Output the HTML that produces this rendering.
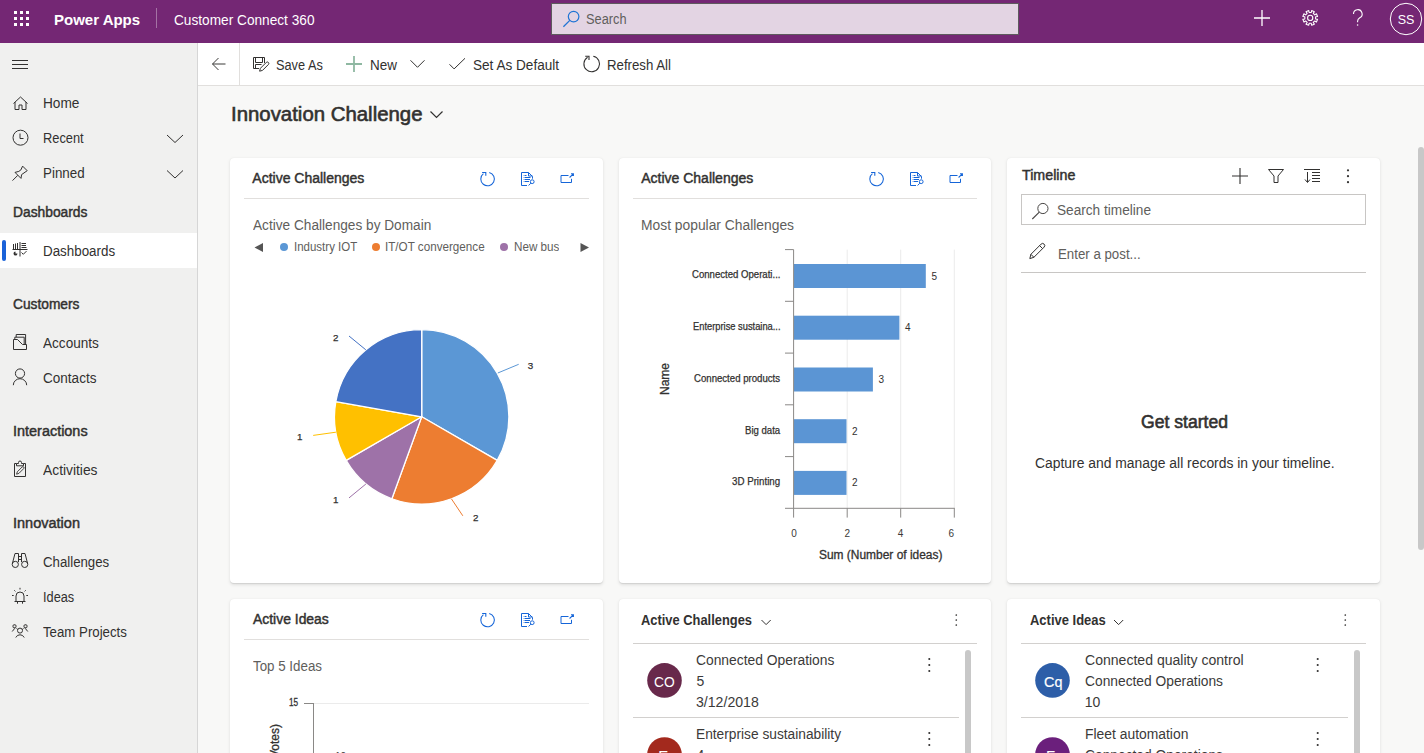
<!DOCTYPE html>
<html lang="en"><head><meta charset="utf-8"><title>Innovation Challenge - Power Apps</title>
<style>
*{box-sizing:border-box;margin:0;padding:0}
html,body{width:1424px;height:753px;overflow:hidden;background:#f8f8f7;font-family:"Liberation Sans",sans-serif;}
.t{position:absolute;white-space:nowrap;transform-origin:0 0;}
.clip{position:absolute;overflow:hidden;}
#hdr{position:absolute;left:0;top:0;width:1424px;height:43px;background:#742774;}
#srch{position:absolute;left:551px;top:3px;width:468px;height:32px;background:#e3d4e3;border:1px solid #5e5a5e;}
#nav{position:absolute;left:0;top:43px;width:198px;height:710px;background:#f0f0ef;border-right:1px solid #d6d6d6;}
#sel{position:absolute;left:0;top:233px;width:197px;height:35px;background:#fff;}
#selbar{position:absolute;left:2px;top:240px;width:4px;height:21px;background:#1a62d8;border-radius:2px;}
#cmd{position:absolute;left:198px;top:43px;width:1226px;height:43px;background:#fff;border-bottom:1px solid #e1dfdd;}
#cmdsep{position:absolute;left:239px;top:43px;width:1px;height:42px;background:#e1dfdd;}
.card{position:absolute;background:#fff;border-radius:4px;box-shadow:0 1.6px 3.6px rgba(0,0,0,.10),0 0.3px 0.9px rgba(0,0,0,.08);}
svg{position:absolute;left:0;top:0;}
.rot{position:absolute;font-size:12px;line-height:12px;color:#323130;-webkit-text-stroke:.3px #323130;transform:rotate(-90deg);transform-origin:0 0;white-space:nowrap;}
.rot2{position:absolute;font-size:12px;line-height:12px;color:#323130;transform:rotate(-90deg);transform-origin:0 0;white-space:nowrap;}
</style></head>
<body>
<div id="hdr"></div>
<div id="srch"></div>
<div id="nav"></div>
<div id="sel"></div>
<div id="selbar"></div>
<div id="cmd"></div>
<div id="cmdsep"></div>
<div class="card" style="left:230px;top:158px;width:373px;height:425px"></div><div class="card" style="left:619px;top:158px;width:372px;height:425px"></div><div class="card" style="left:1007px;top:158px;width:373px;height:425px"></div><div class="card" style="left:230px;top:599px;width:373px;height:181px"></div><div class="card" style="left:619px;top:599px;width:372px;height:181px"></div><div class="card" style="left:1007px;top:599px;width:373px;height:181px"></div>
<svg width="1424" height="753" viewBox="0 0 1424 753">
<rect x="14" y="11" width="3" height="3" fill="#fff"/>
<rect x="14" y="17" width="3" height="3" fill="#fff"/>
<rect x="14" y="23" width="3" height="3" fill="#fff"/>
<rect x="20" y="11" width="3" height="3" fill="#fff"/>
<rect x="20" y="17" width="3" height="3" fill="#fff"/>
<rect x="20" y="23" width="3" height="3" fill="#fff"/>
<rect x="26" y="11" width="3" height="3" fill="#fff"/>
<rect x="26" y="17" width="3" height="3" fill="#fff"/>
<rect x="26" y="23" width="3" height="3" fill="#fff"/>
<rect x="156" y="8" width="1" height="20" fill="rgba(255,255,255,.35)"/>
<path d="M1262 10v16M1254 18h16" stroke="#fff" stroke-width="1.3" fill="none"/>
<path d="M1317.56 19.36 L1316.44 22.07 L1314.77 20.96 L1313.26 22.47 L1314.37 24.14 L1311.66 25.26 L1311.27 23.29 L1309.13 23.29 L1308.74 25.26 L1306.03 24.14 L1307.14 22.47 L1305.63 20.96 L1303.96 22.07 L1302.84 19.36 L1304.81 18.97 L1304.81 16.83 L1302.84 16.44 L1303.96 13.73 L1305.63 14.84 L1307.14 13.33 L1306.03 11.66 L1308.74 10.54 L1309.13 12.51 L1311.27 12.51 L1311.66 10.54 L1314.37 11.66 L1313.26 13.33 L1314.77 14.84 L1316.44 13.73 L1317.56 16.44 L1315.59 16.83 L1315.59 18.97Z" stroke="#fff" stroke-width="1.1" fill="none" stroke-linejoin="round"/>
<circle cx="1310.2" cy="17.9" r="2.6" stroke="#fff" stroke-width="1.1" fill="none"/>
<path d="M1353.5 14a4.3 4.3 0 1 1 6.3 3.8c-1.4.8-2.2 1.6-2.2 3.4v1" stroke="#fff" stroke-width="1.1" fill="none"/>
<circle cx="1357.6" cy="25" r=".8" fill="#fff"/>
<circle cx="1406" cy="19" r="15.7" stroke="#fff" stroke-width="1" fill="none"/>
<circle cx="573.6" cy="16.6" r="5.3" stroke="#1f74d4" stroke-width="1.2" fill="none"/>
<path d="M569.8 20.4L563.4 26.8" stroke="#1f74d4" stroke-width="1.3" fill="none"/>
<path d="M225.5 64H212.5M218.5 58L212.5 64L218.5 70" stroke="#3b3a39" stroke-width="1" fill="none"/>
<path d="M253.5 57.5h11v5.5M253.5 57.5v11h5.5M255.5 57.5v5h7v-5M255.5 68.5v-4h6" stroke="#323130" fill="none"/><path d="M259.6 71.2l.8-2.9 6-6a1.5 1.5 0 0 1 2.1 2.1l-6 6z" stroke="#323130" fill="none" stroke-linejoin="round"/>
<path d="M354 56v16M346 64h16" stroke="#8fb8a2" stroke-width="1.8" fill="none"/>
<path d="M410.5 60.3l7 7 7-7" stroke="#323130" stroke-width="1" fill="none"/>
<path d="M449.5 64.3l4.6 4.6 10.9-10.6" stroke="#323130" stroke-width="1" fill="none"/>
<path d="M593.3 56.3A7.8 7.8 0 1 1 587.6 57.3" stroke="#323130" stroke-width="1.05" fill="none"/><path d="M585.2 56.3H589V60" stroke="#323130" stroke-width="1.1" fill="none"/>
<path d="M12 60.5h16M12 64.5h16M12 68.5h16" stroke="#323130" stroke-width="1" fill="none"/>
<path d="M13.5 103.5L20.5 97l7 6.5M15 102v7.5h4v-4.5h3v4.5h4V102" stroke="#323130" fill="none" stroke-linejoin="round"/>
<circle cx="20.5" cy="137.7" r="7.5" stroke="#323130" fill="none"/><path d="M20 133.5v5h3.5" stroke="#323130" fill="none"/>
<path d="M15 172.4L21 178.4L21.6 174.6L27.2 170.7L22.6 166.1L20.9 169.9L18.8 171.4ZM12.5 180.6L17.8 175.3" stroke="#323130" fill="none" stroke-linejoin="round"/>
<path d="M167 135l8 7.5 8-7.5M167 170.5l8 7.5 8-7.5" stroke="#323130" stroke-width="1" fill="none"/>
<path d="M13.5 244v5M15.5 243.5v5.5M17.5 243v6M20 242v14.5M12.5 249.5h15M21.5 243.5h4.5M21.5 245.5h4.5M21.5 247.5h5M21.5 252.5l1.8 1.8 3.2-3.2" stroke="#323130" fill="none"/><path d="M15.5 251.5a2 2 0 1 0 2 2h-2z" fill="#323130"/>
<path d="M13.5 349.5V339.5h4l5 5h4v5zM14.8 339.5v-2.3h9.4v7.3M16.2 337.2v-2.7h9.4v10" stroke="#323130" fill="none" stroke-linejoin="round"/>
<circle cx="20" cy="373.5" r="4.6" stroke="#323130" fill="none"/><path d="M13.3 385.2a6.7 6.5 0 0 1 13.4 0" stroke="#323130" fill="none"/>
<path d="M16.5 463.5h-2v13h11v-13h-2" stroke="#323130" fill="none"/><path d="M16.5 463.5h2v-1a1.5 1.5 0 0 1 3 0v1h2v2.3h-7z" stroke="#323130" fill="none" stroke-linejoin="round"/><path d="M16.6 474.2l.7-2.4 4.8-4.8a1.1 1.1 0 0 1 1.6 1.6l-4.8 4.8z" stroke="#323130" stroke-width=".9" fill="none" stroke-linejoin="round"/>
<circle cx="15.3" cy="564.4" r="3.1" stroke="#323130" fill="none"/><circle cx="24.7" cy="564.4" r="3.1" stroke="#323130" fill="none"/><path d="M12.3 563.8l2.7-10.3h3.5v8.5M27.7 563.8l-2.7-10.3h-3.5v8.5M18.5 556.5h3M18.5 559.5h3" stroke="#323130" fill="none" stroke-linejoin="round"/>
<path d="M16 601.5v-5.5a4 4 0 0 1 8 0v5.5M14.5 601.5h11M17.5 601.5v2.2M22.5 601.5v2.2M20 587.8v1.7M14.3 590.3l1.1 1.1M25.7 590.3l-1.1 1.1M12 595.5h1.7M26.3 595.5h1.7" stroke="#323130" fill="none"/>
<rect x="13" y="624.8" width="3" height="3" rx="1" stroke="#323130" fill="none"/><rect x="24" y="624.8" width="3" height="3" rx="1" stroke="#323130" fill="none"/><circle cx="20" cy="630.6" r="2.5" stroke="#323130" fill="none"/><path d="M12.2 631.5l2.6-3.2M27.8 631.5l-2.6-3.2M16.5 628.5l1.3 1M23.5 628.5l-1.3 1M15.8 637.5a4.6 4.6 0 0 1 8.4 0" stroke="#323130" fill="none"/>
<path d="M430.5 111.5l6 6 6-6" stroke="#323130" stroke-width="1.2" fill="none"/>
<path d="M489.25 172.40A6.8 6.8 0 1 1 483.41 173.64" stroke="#1565d8" stroke-width="1.05" fill="none"/><path d="M482.1 172.5H485.8V175.7" stroke="#1565d8" stroke-width="1.1" fill="none"/><path d="M521.5 172.5h7l4 4v2.2M521.5 172.5v13h5.5M528.5 172.5v3.5h4M524.5 175.5h2M524.5 177.5h6M524.5 179.5h5.5M524.5 181.5h4.5" stroke="#1565d8" fill="none"/><path d="M523.0 175.5h.6M523.0 177.5h.6M523.0 179.5h.6M523.0 181.5h.6" stroke="#1565d8" stroke-opacity=".5" fill="none"/><circle cx="532.2" cy="181.7" r="1.9" stroke="#1565d8" fill="none"/><path d="M530.8 183.2l-2.2 2.3" stroke="#1565d8" fill="none"/><path d="M568.5 175.5H561V182.5H571.5V178.8" stroke="#1565d8" stroke-width="1" fill="none"/><path d="M569.6 177.5L573 174.1M571 173.7H573.4V176.1" stroke="#1565d8" stroke-width="1.1" fill="none"/>
<rect x="244" y="198" width="345" height="1" fill="#e1dfdd"/>
<path d="M254.5 247.5l8.5-4.5v9z" fill="#555"/>
<path d="M589 247.5l-8.5-4.5v9z" fill="#555"/>
<circle cx="284" cy="247" r="4" fill="#5b97d5"/><circle cx="376" cy="247" r="4" fill="#ed7d31"/><circle cx="504" cy="247" r="4" fill="#9e72a8"/>
<path d="M421.7 416.8L421.70 329.60A87.2 87.2 0 0 1 497.22 460.40Z" fill="#5b97d5" stroke="#fff" stroke-width="1.3" stroke-linejoin="round"/>
<path d="M421.7 416.8L497.22 460.40A87.2 87.2 0 0 1 391.88 498.74Z" fill="#ed7d31" stroke="#fff" stroke-width="1.3" stroke-linejoin="round"/>
<path d="M421.7 416.8L391.88 498.74A87.2 87.2 0 0 1 346.18 460.40Z" fill="#9e72a8" stroke="#fff" stroke-width="1.3" stroke-linejoin="round"/>
<path d="M421.7 416.8L346.18 460.40A87.2 87.2 0 0 1 335.82 401.66Z" fill="#ffc000" stroke="#fff" stroke-width="1.3" stroke-linejoin="round"/>
<path d="M421.7 416.8L335.82 401.66A87.2 87.2 0 0 1 421.70 329.60Z" fill="#4472c4" stroke="#fff" stroke-width="1.3" stroke-linejoin="round"/>
<path d="M497.8 373L518.7 364.3" stroke="#5b97d5" stroke-width="1" fill="none"/>
<path d="M451.4 498.8L462.8 515.8" stroke="#ed7d31" stroke-width="1" fill="none"/>
<path d="M365.9 484L349 497.9" stroke="#9e72a8" stroke-width="1" fill="none"/>
<path d="M335.9 432.2L313.2 435.4" stroke="#ffc000" stroke-width="1" fill="none"/>
<path d="M365.8 349.8L349 336" stroke="#4472c4" stroke-width="1" fill="none"/>
<path d="M878.25 172.40A6.8 6.8 0 1 1 872.41 173.64" stroke="#1565d8" stroke-width="1.05" fill="none"/><path d="M871.1 172.5H874.8V175.7" stroke="#1565d8" stroke-width="1.1" fill="none"/><path d="M910.5 172.5h7l4 4v2.2M910.5 172.5v13h5.5M917.5 172.5v3.5h4M913.5 175.5h2M913.5 177.5h6M913.5 179.5h5.5M913.5 181.5h4.5" stroke="#1565d8" fill="none"/><path d="M912.0 175.5h.6M912.0 177.5h.6M912.0 179.5h.6M912.0 181.5h.6" stroke="#1565d8" stroke-opacity=".5" fill="none"/><circle cx="921.2" cy="181.7" r="1.9" stroke="#1565d8" fill="none"/><path d="M919.8 183.2l-2.2 2.3" stroke="#1565d8" fill="none"/><path d="M957.5 175.5H950V182.5H960.5V178.8" stroke="#1565d8" stroke-width="1" fill="none"/><path d="M958.6 177.5L962 174.1M960 173.7H962.4V176.1" stroke="#1565d8" stroke-width="1.1" fill="none"/>
<rect x="633" y="198" width="344" height="1" fill="#e1dfdd"/>
<path d="M847.2 249.6V508.3" stroke="#ebebeb" stroke-width="1" fill="none"/>
<path d="M900.7 249.6V508.3" stroke="#ebebeb" stroke-width="1" fill="none"/>
<path d="M954.3 249.6V508.3" stroke="#ebebeb" stroke-width="1" fill="none"/>
<rect x="794.0" y="264.0" width="131.8" height="24" fill="#5b95d4"/>
<rect x="794.0" y="315.7" width="105.4" height="24" fill="#5b95d4"/>
<rect x="794.0" y="367.5" width="78.9" height="24" fill="#5b95d4"/>
<rect x="794.0" y="419.2" width="52.5" height="24" fill="#5b95d4"/>
<rect x="794.0" y="470.9" width="52.5" height="24" fill="#5b95d4"/>
<path d="M793.6 249.6V508.3M785 249.6H793.6" stroke="#8a8886" stroke-width="1" fill="none"/>
<path d="M785 301.3H793.6" stroke="#8a8886" stroke-width="1" fill="none"/>
<path d="M785 353.1H793.6" stroke="#8a8886" stroke-width="1" fill="none"/>
<path d="M785 404.8H793.6" stroke="#8a8886" stroke-width="1" fill="none"/>
<path d="M785 456.6H793.6" stroke="#8a8886" stroke-width="1" fill="none"/>
<path d="M785 508.3H954.8" stroke="#8a8886" stroke-width="1" fill="none"/>
<path d="M793.6 508.3V517.6" stroke="#8a8886" stroke-width="1" fill="none"/>
<path d="M847.2 508.3V517.6" stroke="#8a8886" stroke-width="1" fill="none"/>
<path d="M900.7 508.3V517.6" stroke="#8a8886" stroke-width="1" fill="none"/>
<path d="M954.3 508.3V517.6" stroke="#8a8886" stroke-width="1" fill="none"/>
<path d="M1240 168v16M1232 176h16" stroke="#323130" stroke-width="1.1" fill="none"/>
<path d="M1268.5 169.5h15l-5.5 6.5v6.5h-4v-6.5z" stroke="#323130" stroke-width="1" fill="none" stroke-linejoin="round"/>
<path d="M1304 169.5h16M1307.5 172v10M1305 179.5l2.5 3 2.5-3M1312 172.5h8M1312 175.5h8M1312 178.5h8M1312 181.5h8" stroke="#323130" stroke-width="1" fill="none"/>
<circle cx="1348" cy="170.3" r="1.1" fill="#323130"/>
<circle cx="1348" cy="176.2" r="1.1" fill="#323130"/>
<circle cx="1348" cy="182.2" r="1.1" fill="#323130"/>
<rect x="1021.5" y="194.5" width="344" height="30" stroke="#c8c6c4" fill="#fff"/>
<circle cx="1042.9" cy="208.5" r="5.1" stroke="#484644" stroke-width="1" fill="none"/><path d="M1039.3 212.2l-7 6.8" stroke="#484644" stroke-width="1.1" fill="none"/>
<path d="M1029.8 258.6l1.1-4.3 10.2-10.2a2.1 2.1 0 0 1 3 3l-10.2 10.2zM1039.6 245.6l3 3M1030.9 254.3l3 3" stroke="#323130" stroke-width="1" fill="none" stroke-linejoin="round"/>
<rect x="1021" y="272" width="345" height="1" fill="#c8c6c4"/>
<path d="M489.25 613.40A6.8 6.8 0 1 1 483.41 614.64" stroke="#1565d8" stroke-width="1.05" fill="none"/><path d="M482.1 613.5H485.8V616.7" stroke="#1565d8" stroke-width="1.1" fill="none"/><path d="M521.5 613.5h7l4 4v2.2M521.5 613.5v13h5.5M528.5 613.5v3.5h4M524.5 616.5h2M524.5 618.5h6M524.5 620.5h5.5M524.5 622.5h4.5" stroke="#1565d8" fill="none"/><path d="M523.0 616.5h.6M523.0 618.5h.6M523.0 620.5h.6M523.0 622.5h.6" stroke="#1565d8" stroke-opacity=".5" fill="none"/><circle cx="532.2" cy="622.7" r="1.9" stroke="#1565d8" fill="none"/><path d="M530.8 624.2l-2.2 2.3" stroke="#1565d8" fill="none"/><path d="M568.5 616.5H561V623.5H571.5V619.8" stroke="#1565d8" stroke-width="1" fill="none"/><path d="M569.6 618.5L573 615.1M571 614.7H573.4V617.1" stroke="#1565d8" stroke-width="1.1" fill="none"/>
<rect x="244" y="639" width="345" height="1" fill="#e1dfdd"/>
<path d="M313.5 703.5H589" stroke="#ebebeb" stroke-width="1" fill="none"/>
<path d="M313.5 703V760M304 703.5H313.5" stroke="#8a8886" stroke-width="1" fill="none"/>
<path d="M761.5 620l4.6 4.6 4.6-4.6" stroke="#323130" stroke-width="1" fill="none"/>
<circle cx="956.3" cy="615" r="0.85" fill="#323130"/><circle cx="956.3" cy="620" r="0.85" fill="#323130"/><circle cx="956.3" cy="625" r="0.85" fill="#323130"/>
<rect x="633" y="643" width="344" height="1" fill="#d2d0ce"/>
<circle cx="664.5" cy="680.4" r="17.3" fill="#68294b"/>
<circle cx="929.3" cy="659" r="1.05" fill="#323130"/><circle cx="929.3" cy="665" r="1.05" fill="#323130"/><circle cx="929.3" cy="671" r="1.05" fill="#323130"/>
<rect x="633" y="717" width="326" height="1" fill="#d2d0ce"/>
<circle cx="664.5" cy="754.5" r="17.3" fill="#a3291d"/>
<circle cx="929.3" cy="733" r="1.05" fill="#323130"/><circle cx="929.3" cy="739" r="1.05" fill="#323130"/><circle cx="929.3" cy="745" r="1.05" fill="#323130"/>
<rect x="965" y="650" width="6" height="120" rx="3" fill="#c8c8c8"/>
<path d="M1114 620l4.6 4.6 4.6-4.6" stroke="#323130" stroke-width="1" fill="none"/>
<circle cx="1345.3" cy="615" r="0.85" fill="#323130"/><circle cx="1345.3" cy="620" r="0.85" fill="#323130"/><circle cx="1345.3" cy="625" r="0.85" fill="#323130"/>
<rect x="1021" y="643" width="345" height="1" fill="#d2d0ce"/>
<circle cx="1052.5" cy="680.4" r="17.3" fill="#2d5ea8"/>
<circle cx="1317.7" cy="659" r="1.05" fill="#323130"/><circle cx="1317.7" cy="665" r="1.05" fill="#323130"/><circle cx="1317.7" cy="671" r="1.05" fill="#323130"/>
<rect x="1021" y="717" width="327" height="1" fill="#d2d0ce"/>
<circle cx="1052.5" cy="754.5" r="17.3" fill="#6b1f7c"/>
<circle cx="1317.7" cy="733" r="1.05" fill="#323130"/><circle cx="1317.7" cy="739" r="1.05" fill="#323130"/><circle cx="1317.7" cy="745" r="1.05" fill="#323130"/>
<rect x="1354" y="650" width="6" height="120" rx="3" fill="#c8c8c8"/>
<rect x="1418" y="147" width="6" height="403" rx="3" fill="#c8c8c8"/>
</svg>
<span class="t" style="left:54.00px;top:12.30px;font-size:15px;line-height:15px;color:#fff;font-weight:700;">Power Apps</span>
<span class="t" style="left:173.50px;top:13.15px;font-size:14px;line-height:14px;color:#fff;transform:scaleX(0.976);">Customer Connect 360</span>
<span class="t" style="left:1397.66px;top:14.42px;font-size:12.5px;line-height:12.5px;color:#fff;">SS</span>
<span class="t" style="left:586.00px;top:12.15px;font-size:14px;line-height:14px;color:#605e5c;transform:scaleX(0.913);">Search</span>
<span class="t" style="left:275.50px;top:58.15px;font-size:14px;line-height:14px;color:#323130;transform:scaleX(0.911);">Save As</span>
<span class="t" style="left:370.00px;top:58.15px;font-size:14px;line-height:14px;color:#323130;transform:scaleX(0.962);">New</span>
<span class="t" style="left:473.00px;top:58.15px;font-size:14px;line-height:14px;color:#323130;transform:scaleX(0.970);">Set As Default</span>
<span class="t" style="left:607.00px;top:58.15px;font-size:14px;line-height:14px;color:#323130;transform:scaleX(0.945);">Refresh All</span>
<span class="t" style="left:43.10px;top:96.15px;font-size:14px;line-height:14px;color:#323130;transform:scaleX(0.976);">Home</span>
<span class="t" style="left:43.10px;top:131.15px;font-size:14px;line-height:14px;color:#323130;transform:scaleX(0.917);">Recent</span>
<span class="t" style="left:43.10px;top:166.15px;font-size:14px;line-height:14px;color:#323130;transform:scaleX(0.956);">Pinned</span>
<span class="t" style="left:43.10px;top:244.15px;font-size:14px;line-height:14px;color:#323130;transform:scaleX(0.955);">Dashboards</span>
<span class="t" style="left:43.10px;top:336.15px;font-size:14px;line-height:14px;color:#323130;transform:scaleX(0.970);">Accounts</span>
<span class="t" style="left:43.10px;top:371.15px;font-size:14px;line-height:14px;color:#323130;transform:scaleX(0.967);">Contacts</span>
<span class="t" style="left:43.10px;top:463.15px;font-size:14px;line-height:14px;color:#323130;transform:scaleX(0.987);">Activities</span>
<span class="t" style="left:43.10px;top:555.15px;font-size:14px;line-height:14px;color:#323130;transform:scaleX(0.945);">Challenges</span>
<span class="t" style="left:43.10px;top:590.15px;font-size:14px;line-height:14px;color:#323130;transform:scaleX(0.911);">Ideas</span>
<span class="t" style="left:43.10px;top:625.15px;font-size:14px;line-height:14px;color:#323130;transform:scaleX(0.946);">Team Projects</span>
<span class="t" style="left:12.60px;top:205.15px;font-size:14px;line-height:14px;color:#323130;transform:scaleX(0.986);-webkit-text-stroke:0.45px #323130;">Dashboards</span>
<span class="t" style="left:12.60px;top:297.15px;font-size:14px;line-height:14px;color:#323130;transform:scaleX(0.981);-webkit-text-stroke:0.45px #323130;">Customers</span>
<span class="t" style="left:12.60px;top:424.15px;font-size:14px;line-height:14px;color:#323130;transform:scaleX(1.031);-webkit-text-stroke:0.45px #323130;">Interactions</span>
<span class="t" style="left:12.60px;top:516.15px;font-size:14px;line-height:14px;color:#323130;transform:scaleX(1.037);-webkit-text-stroke:0.45px #323130;">Innovation</span>
<span class="t" style="left:230.60px;top:104.07px;font-size:20px;line-height:20px;color:#323130;transform:scaleX(1.019);-webkit-text-stroke:0.60px #323130;">Innovation Challenge</span>
<span class="t" style="left:252.30px;top:171.15px;font-size:14px;line-height:14px;color:#323130;-webkit-text-stroke:0.45px #323130;">Active Challenges</span>
<span class="t" style="left:252.70px;top:217.85px;font-size:14px;line-height:14px;color:#605e5c;transform:scaleX(0.975);">Active Challenges by Domain</span>
<span class="t" style="left:293.50px;top:240.84px;font-size:12px;line-height:12px;color:#605e5c;transform:scaleX(0.958);">Industry IOT</span>
<span class="t" style="left:385.40px;top:240.84px;font-size:12px;line-height:12px;color:#605e5c;transform:scaleX(0.972);">IT/OT convergence</span>
<div class="clip" style="left:513px;top:238px;width:46px;height:18px">
<span class="t" style="left:0.60px;top:2.84px;font-size:12px;line-height:12px;color:#605e5c;transform:scaleX(0.972);">New business</span>
</div>
<span class="t" style="left:527.78px;top:360.70px;font-size:9.8px;line-height:9.8px;color:#323130;-webkit-text-stroke:0.25px #323130;">3</span>
<span class="t" style="left:472.88px;top:512.70px;font-size:9.8px;line-height:9.8px;color:#323130;-webkit-text-stroke:0.25px #323130;">2</span>
<span class="t" style="left:332.88px;top:494.70px;font-size:9.8px;line-height:9.8px;color:#323130;-webkit-text-stroke:0.25px #323130;">1</span>
<span class="t" style="left:296.98px;top:431.70px;font-size:9.8px;line-height:9.8px;color:#323130;-webkit-text-stroke:0.25px #323130;">1</span>
<span class="t" style="left:332.88px;top:332.90px;font-size:9.8px;line-height:9.8px;color:#323130;-webkit-text-stroke:0.25px #323130;">2</span>
<span class="t" style="left:641.20px;top:171.15px;font-size:14px;line-height:14px;color:#323130;-webkit-text-stroke:0.45px #323130;">Active Challenges</span>
<span class="t" style="left:641.20px;top:217.85px;font-size:14px;line-height:14px;color:#605e5c;transform:scaleX(0.988);">Most popular Challenges</span>
<span class="t" style="left:691.70px;top:270.31px;font-size:10px;line-height:10px;color:#323130;transform:scaleX(0.959);-webkit-text-stroke:0.25px #323130;">Connected Operati...</span>
<span class="t" style="left:931.45px;top:271.51px;font-size:10px;line-height:10px;color:#323130;">5</span>
<span class="t" style="left:692.60px;top:322.05px;font-size:10px;line-height:10px;color:#323130;transform:scaleX(0.932);-webkit-text-stroke:0.25px #323130;">Enterprise sustaina...</span>
<span class="t" style="left:905.00px;top:323.25px;font-size:10px;line-height:10px;color:#323130;">4</span>
<span class="t" style="left:694.20px;top:373.79px;font-size:10px;line-height:10px;color:#323130;transform:scaleX(0.961);-webkit-text-stroke:0.25px #323130;">Connected products</span>
<span class="t" style="left:878.55px;top:374.99px;font-size:10px;line-height:10px;color:#323130;">3</span>
<span class="t" style="left:745.00px;top:425.53px;font-size:10px;line-height:10px;color:#323130;transform:scaleX(0.958);-webkit-text-stroke:0.25px #323130;">Big data</span>
<span class="t" style="left:852.10px;top:426.73px;font-size:10px;line-height:10px;color:#323130;">2</span>
<span class="t" style="left:732.10px;top:477.27px;font-size:10px;line-height:10px;color:#323130;transform:scaleX(0.973);-webkit-text-stroke:0.25px #323130;">3D Printing</span>
<span class="t" style="left:852.10px;top:478.47px;font-size:10px;line-height:10px;color:#323130;">2</span>
<span class="t" style="left:791.23px;top:528.83px;font-size:10px;line-height:10px;color:#3b3a39;">0</span>
<span class="t" style="left:844.43px;top:528.83px;font-size:10px;line-height:10px;color:#3b3a39;">2</span>
<span class="t" style="left:897.83px;top:528.83px;font-size:10px;line-height:10px;color:#3b3a39;">4</span>
<span class="t" style="left:948.52px;top:528.83px;font-size:10px;line-height:10px;color:#3b3a39;">6</span>
<span class="t" style="left:819.20px;top:548.54px;font-size:12px;line-height:12px;color:#323130;transform:scaleX(0.995);-webkit-text-stroke:0.30px #323130;">Sum (Number of ideas)</span>
<div class="rot" style="left:659.4px;top:395.2px;">Name</div>
<span class="t" style="left:1022.00px;top:168.15px;font-size:14px;line-height:14px;color:#323130;transform:scaleX(1.018);-webkit-text-stroke:0.45px #323130;">Timeline</span>
<span class="t" style="left:1056.50px;top:203.15px;font-size:14px;line-height:14px;color:#605e5c;transform:scaleX(0.974);">Search timeline</span>
<span class="t" style="left:1058.00px;top:247.15px;font-size:14px;line-height:14px;color:#605e5c;transform:scaleX(0.948);">Enter a post...</span>
<span class="t" style="left:1141.10px;top:413.06px;font-size:18px;line-height:18px;color:#323130;transform:scaleX(0.977);-webkit-text-stroke:0.60px #323130;">Get started</span>
<span class="t" style="left:1035.15px;top:455.85px;font-size:14px;line-height:14px;color:#323130;transform:scaleX(0.992);">Capture and manage all records in your timeline.</span>
<span class="t" style="left:252.50px;top:612.15px;font-size:14px;line-height:14px;color:#323130;transform:scaleX(0.994);-webkit-text-stroke:0.45px #323130;">Active Ideas</span>
<span class="t" style="left:252.60px;top:659.15px;font-size:14px;line-height:14px;color:#605e5c;transform:scaleX(0.953);">Top 5 Ideas</span>
<span class="t" style="left:288.90px;top:697.83px;font-size:10px;line-height:10px;color:#323130;transform:scaleX(0.820);-webkit-text-stroke:0.30px #323130;">15</span>
<span class="t" style="left:334.95px;top:751.53px;font-size:10px;line-height:10px;color:#3b3a39;">10</span>
<div class="rot" style="left:269.2px;top:790px;">Sum (Votes)</div>
<span class="t" style="left:641.20px;top:612.75px;font-size:14px;line-height:14px;color:#323130;font-weight:700;transform:scaleX(0.920);">Active Challenges</span>
<span class="t" style="left:653.85px;top:674.10px;font-size:15px;line-height:15px;color:#fff;transform:scaleX(0.920);">CO</span>
<span class="t" style="left:696.10px;top:653.15px;font-size:14px;line-height:14px;color:#3b3a39;transform:scaleX(0.988);">Connected Operations</span>
<span class="t" style="left:696.40px;top:674.15px;font-size:14px;line-height:14px;color:#3b3a39;">5</span>
<span class="t" style="left:696.40px;top:695.15px;font-size:14px;line-height:14px;color:#3b3a39;transform:scaleX(1.008);">3/12/2018</span>
<span class="t" style="left:658.20px;top:747.50px;font-size:15px;line-height:15px;color:#fff;">E</span>
<span class="t" style="left:696.40px;top:727.45px;font-size:14px;line-height:14px;color:#3b3a39;transform:scaleX(0.981);">Enterprise sustainability</span>
<span class="t" style="left:696.40px;top:748.45px;font-size:14px;line-height:14px;color:#3b3a39;">4</span>
<span class="t" style="left:1029.60px;top:612.75px;font-size:14px;line-height:14px;color:#323130;font-weight:700;transform:scaleX(0.927);">Active Ideas</span>
<span class="t" style="left:1043.60px;top:673.90px;font-size:15px;line-height:15px;color:#fff;transform:scaleX(0.958);-webkit-text-stroke:0.20px #fff;">Cq</span>
<span class="t" style="left:1084.90px;top:653.15px;font-size:14px;line-height:14px;color:#3b3a39;transform:scaleX(1.004);">Connected quality control</span>
<span class="t" style="left:1084.90px;top:674.15px;font-size:14px;line-height:14px;color:#3b3a39;transform:scaleX(0.985);">Connected Operations</span>
<span class="t" style="left:1084.70px;top:695.15px;font-size:14px;line-height:14px;color:#3b3a39;">10</span>
<span class="t" style="left:1046.10px;top:747.50px;font-size:15px;line-height:15px;color:#fff;">F</span>
<span class="t" style="left:1084.70px;top:727.15px;font-size:14px;line-height:14px;color:#3b3a39;transform:scaleX(0.991);">Fleet automation</span>
<span class="t" style="left:1084.90px;top:748.15px;font-size:14px;line-height:14px;color:#3b3a39;transform:scaleX(0.985);">Connected Operations</span>
</body></html>
